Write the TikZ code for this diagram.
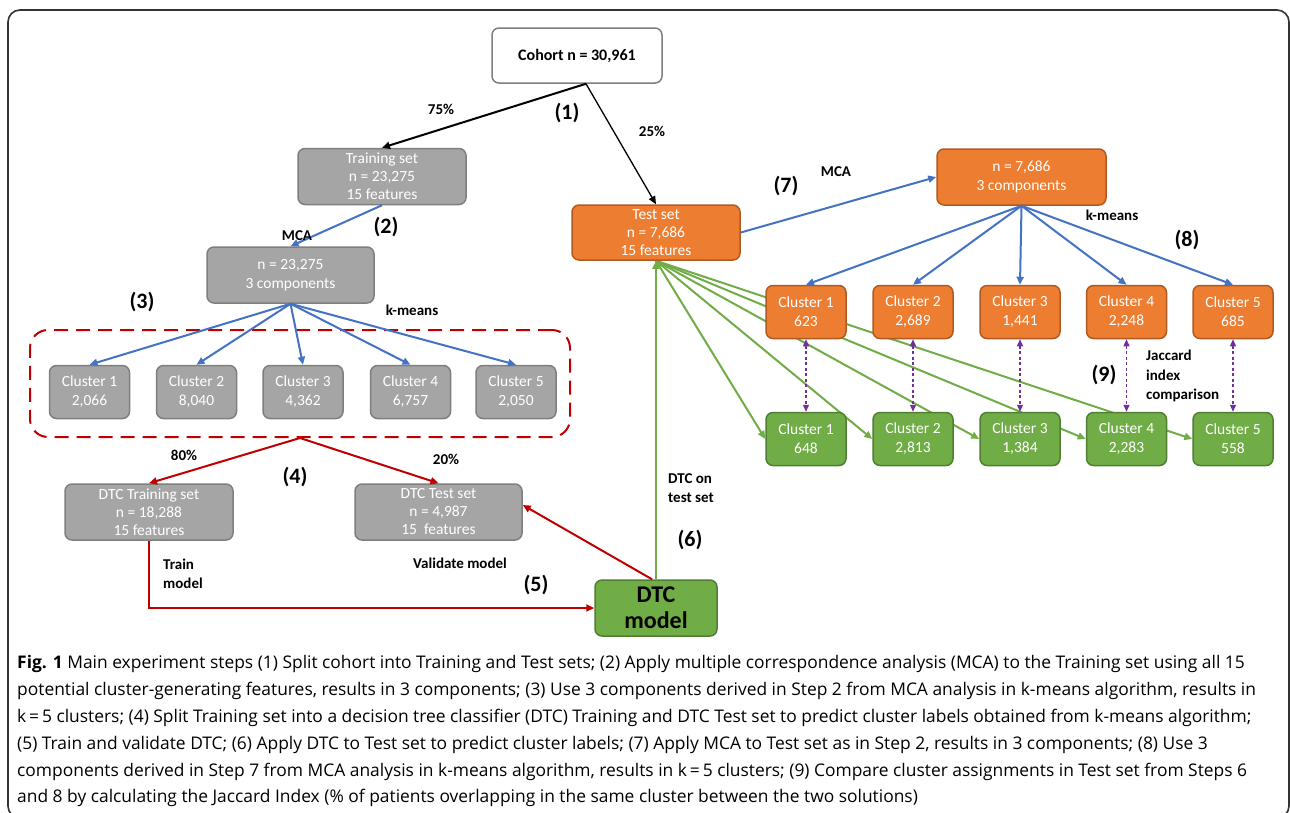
\documentclass[tikz,border=0pt]{standalone}
\usepackage{fontspec}
\setmainfont{Carlito}
\newfontfamily\capfont{Open Sans}
\usetikzlibrary{arrows.meta,calc}
\pgfdeclarelayer{back}
\pgfdeclarelayer{bg}
\pgfsetlayers{back,bg,main}
\definecolor{boxgray}{HTML}{A5A5A5}
\definecolor{boxgrayd}{HTML}{7F7F7F}
\definecolor{orfill}{HTML}{ED7D31}
\definecolor{ordraw}{HTML}{AE5A21}
\definecolor{grfill}{HTML}{70AD47}
\definecolor{grdraw}{HTML}{507E32}
\definecolor{blu}{HTML}{4472C4}
\definecolor{redl}{HTML}{C00000}
\definecolor{purp}{HTML}{7030A0}
\definecolor{frame}{HTML}{333333}
\begin{document}
\begin{tikzpicture}[x=1pt,y=-1pt,
  box/.style={rounded corners=7pt, line width=1.5pt, align=center, inner sep=0pt, text=white, font=\fontsize{15.5}{18}\selectfont},
  graybox/.style={box, fill=boxgray, draw=boxgrayd},
  orbox/.style={box, fill=orfill, draw=ordraw},
  grbox/.style={box, fill=grfill, draw=grdraw},
  clus/.style={minimum width=80pt, minimum height=53pt, font=\fontsize{15.5}{19}\selectfont},
  wide/.style={minimum width=168pt, minimum height=56pt},
  lab/.style={font=\bfseries\fontsize{15}{19.5}\selectfont, align=left, inner sep=0pt},
  stepnum/.style={font=\bfseries\fontsize{22}{24}\selectfont, inner sep=0pt},
  arr/.style={-{Triangle[length=8pt,width=7pt]}},
  darr/.style={{Triangle[length=7pt,width=6pt]}-{Triangle[length=7pt,width=6pt]}},
  blueline/.style={draw=blu, line width=2pt, arr},
  redline/.style={draw=redl, line width=2pt, arr},
  greenline/.style={draw=grfill, line width=2pt, arr},
  purpline/.style={draw=purp, line width=1.3pt, dash pattern=on 3pt off 2.5pt, darr},
  capline/.style={anchor=base west, inner sep=0pt, font=\capfont\fontsize{17.4}{27}\selectfont}
]
\useasboundingbox (0,0) rectangle (1290,812);
\begin{pgfonlayer}{back}
\fill[white] (0,0) rectangle (1290,812);
\end{pgfonlayer}
\begin{scope}
\clip (0,0) rectangle (1290,812);
\draw[frame, line width=1.6pt, rounded corners=12pt] (8,10) rectangle (1289,818);
\end{scope}

% nodes
\node[box, fill=white, draw=boxgrayd, text=black, minimum width=170pt, minimum height=55pt,
      font=\bfseries\fontsize{16}{19}\selectfont] (cohort) at (577,55.5) {Cohort n = 30,961};
\node[graybox, wide] (train) at (382,176.5) {Training set\\n = 23,275\\15 features};
\node[graybox, minimum width=167pt, minimum height=56pt, font=\fontsize{15.5}{19}\selectfont] (mcaL) at (290.5,275) {n = 23,275\\3 components};
\node[draw=redl, line width=2pt, dash pattern=on 14pt off 8pt, rounded corners=18pt,
      minimum width=540pt, minimum height=107pt, inner sep=0pt] (grp) at (300,383.5) {};
\node[graybox, clus] (g1) at (89.5,392) {Cluster 1\\2,066};
\node[graybox, clus] (g2) at (196.5,392) {Cluster 2\\8,040};
\node[graybox, clus] (g3) at (303,392) {Cluster 3\\4,362};
\node[graybox, clus] (g4) at (410.5,392) {Cluster 4\\6,757};
\node[graybox, clus] (g5) at (516,392) {Cluster 5\\2,050};
\node[graybox, wide] (dtctr) at (149,512) {DTC Training set\\n = 18,288\\15 features};
\node[graybox, minimum width=167pt, minimum height=56pt] (dtcte) at (438.5,512) {DTC Test set\\n = 4,987\\15~~features};
\node[grbox, text=black, minimum width=122pt, minimum height=56pt,
      font=\bfseries\fontsize{24}{26}\selectfont] (model) at (656,608) {DTC\\model};
\node[orbox, wide, minimum height=55pt] (test) at (656,232.5) {Test set\\n = 7,686\\15 features};
\node[orbox, minimum width=169pt, minimum height=56pt, font=\fontsize{15.5}{19}\selectfont] (mcaR) at (1021.5,177) {n = 7,686\\3 components};
\node[orbox, clus] (o1) at (806,312) {Cluster 1\\623};
\node[orbox, clus] (o2) at (913,312) {Cluster 2\\2,689};
\node[orbox, clus] (o3) at (1020,312) {Cluster 3\\1,441};
\node[orbox, clus] (o4) at (1126.5,312) {Cluster 4\\2,248};
\node[orbox, clus] (o5) at (1233,312) {Cluster 5\\685};
\node[grbox, clus] (r1) at (806,439) {Cluster 1\\648};
\node[grbox, clus] (r2) at (913,439) {Cluster 2\\2,813};
\node[grbox, clus] (r3) at (1020,439) {Cluster 3\\1,384};
\node[grbox, clus] (r4) at (1126.5,439) {Cluster 4\\2,283};
\node[grbox, clus] (r5) at (1233,439) {Cluster 5\\558};

% connectors
\draw[black, line width=2pt, arr] ($(cohort.south)+(9,0)$) -- (train.north);
\draw[black, line width=1.3pt, arr] ($(cohort.south)+(9,0)$) -- (test.north);
\draw[blueline] (train.south) -- (mcaL.north);
\foreach \i in {1,...,5} \draw[blueline] (mcaL.south) -- (g\i.north);
\draw[redline] (grp.south) -- (dtctr.north);
\draw[redline] (grp.south) -- (dtcte.north);
\draw[redline] (dtctr.south) |- (model.west);
\draw[redline] ($(model.north)+(-4,0)$) -- ($(dtcte.east)+(0,-7)$);
\draw[greenline] (model.north) -- (test.south);
\draw[blueline] (test.east) -- (mcaR.west);
\foreach \i in {1,...,5} \draw[blueline] (mcaR.south) -- (o\i.north);
\foreach \i in {1,...,5} \draw[purpline] (o\i.south) -- (r\i.north);
\begin{pgfonlayer}{bg}
\foreach \i in {1,...,5} \draw[greenline] (test.south) -- (r\i.west);
\end{pgfonlayer}

% labels
\node[lab] (l75) at (441,109) {75\%};
\node[stepnum] (s1) at (567,113) {(1)};
\node[lab] (l25) at (652,131) {25\%};
\node[lab] (lmca1) at (297,236) {MCA};
\node[stepnum] (s2) at (386,227) {(2)};
\node[stepnum] (s3) at (142,302) {(3)};
\node[lab] (lkm1) at (412,310) {k-means};
\node[lab] (l80) at (184,455) {80\%};
\node[lab] (l20) at (446,459) {20\%};
\node[stepnum] (s4) at (295,477) {(4)};
\node[lab, anchor=west] (ltrain) at (163,574) {Train\\model};
\node[lab] (lval) at (460,563) {Validate model};
\node[stepnum] (s5) at (536,585) {(5)};
\node[lab, anchor=west] (ldtc) at (668,488) {DTC on\\test set};
\node[stepnum] (s6) at (690,540) {(6)};
\node[lab] (lmca2) at (836,172) {MCA};
\node[stepnum] (s7) at (786,186) {(7)};
\node[lab] (lkm2) at (1112,215) {k-means};
\node[stepnum] (s8) at (1187,240) {(8)};
\node[stepnum] (s9) at (1104,375) {(9)};
\node[lab, anchor=west] (ljac) at (1146,376) {Jaccard\\index\\comparison};

% caption
\node[capline] (c1) at (17,668) {\textbf{Fig. 1} Main experiment steps (1) Split cohort into Training and Test sets; (2) Apply multiple correspondence analysis (MCA) to the Training set using all 15};
\node[capline] (c2) at (17,695) {potential cluster-generating features, results in 3 components; (3) Use 3 components derived in Step 2 from MCA analysis in k-means algorithm, results in};
\node[capline] (c3) at (17,722) {k\,=\,5 clusters; (4) Split Training set into a decision tree classifier (DTC) Training and DTC Test set to predict cluster labels obtained from k-means algorithm;};
\node[capline] (c4) at (17,749) {(5) Train and validate DTC; (6) Apply DTC to Test set to predict cluster labels; (7) Apply MCA to Test set as in Step 2, results in 3 components; (8) Use 3};
\node[capline] (c5) at (17,776) {components derived in Step 7 from MCA analysis in k-means algorithm, results in k\,=\,5 clusters; (9) Compare cluster assignments in Test set from Steps 6};
\node[capline] (c6) at (17,802) {and 8 by calculating the Jaccard Index (\% of patients overlapping in the same cluster between the two solutions)};
\end{tikzpicture}
\end{document}
